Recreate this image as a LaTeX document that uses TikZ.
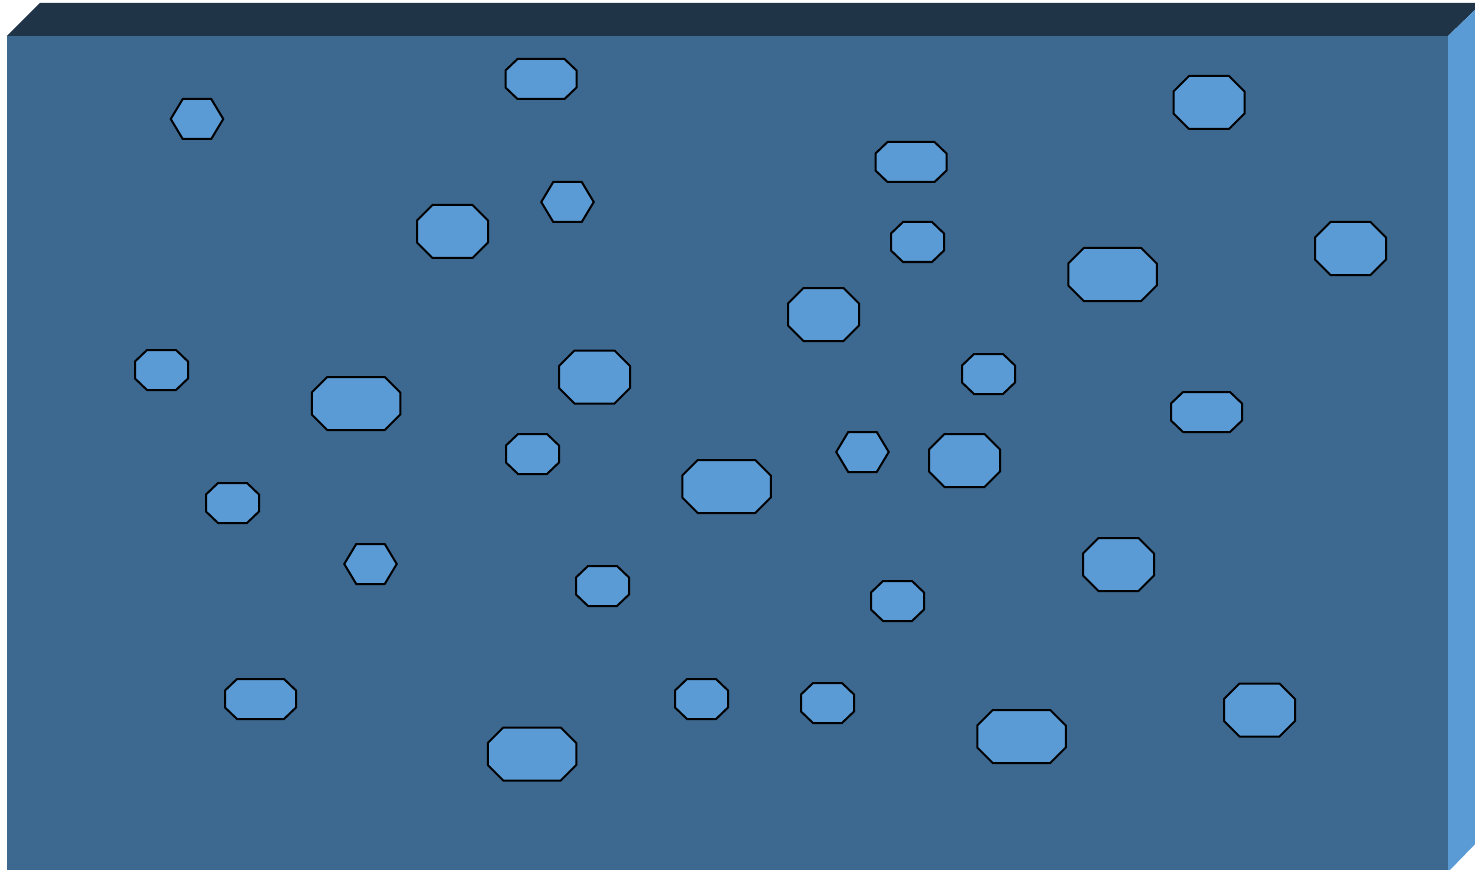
\documentclass[tikz,border=0pt]{standalone}
\begin{document}
\definecolor{frontc}{HTML}{3D6990}
\definecolor{topc}{HTML}{203448}
\definecolor{sidec}{HTML}{5B9BD5}
\definecolor{shapec}{HTML}{5B9BD5}
\tikzset{
  facefront/.style={fill=frontc, draw=none},
  facetop/.style={fill=topc, draw=none},
  faceside/.style={fill=sidec, draw=none},
  blob/.style={fill=shapec, draw=black, line width=1.5, line join=miter}
}
% cx cy halfwidth halfheight xcut ycut
\newcommand\chamfshape[6]{%
  \draw[blob] ({#1-#3+#5},{#2-#4}) -- ({#1+#3-#5},{#2-#4}) -- ({#1+#3},{#2-#4+#6})
    -- ({#1+#3},{#2+#4-#6}) -- ({#1+#3-#5},{#2+#4}) -- ({#1-#3+#5},{#2+#4})
    -- ({#1-#3},{#2+#4-#6}) -- ({#1-#3},{#2-#4+#6}) -- cycle;}
\newcommand\octS[2]{\chamfshape{#1}{#2}{26.5}{20}{12}{11.5}}
\newcommand\octW[2]{\chamfshape{#1}{#2}{35.5}{20}{12}{11.5}}
\newcommand\octM[2]{\chamfshape{#1}{#2}{35.5}{26.5}{15.5}{15.5}}
\newcommand\octB[2]{\chamfshape{#1}{#2}{44.25}{26.5}{15.5}{15.5}}
\newcommand\hexS[2]{\chamfshape{#1}{#2}{26.25}{20}{12}{20}}
\begin{tikzpicture}[x=0.75pt,y=-0.75pt]
\useasboundingbox (0,0) rectangle (1475,870);
\begin{scope}
\clip (0,0) rectangle (1475,870);
\fill[facefront] (7,36) rectangle (1448,872);
\fill[facetop] (7,36) -- (40,3) -- (1482,3) -- (1448,36) -- cycle;
\fill[faceside] (1448,36) -- (1482,3) -- (1482,837) -- (1448,872) -- cycle;
\end{scope}
% shapes
\hexS{197}{119}
\octW{541}{79}
\octM{1209}{102.5}
\octW{911}{162}
\hexS{567.5}{202}
\octM{452.5}{231.5}
\octS{917.5}{242}
\octB{1112.5}{274.5}
\octM{1350.5}{248.5}
\octM{823.5}{314.5}
\octS{161.5}{370}
\octB{356}{403.5}
\octM{594.5}{377}
\octS{988.5}{374}
\octW{1206.5}{412}
\octS{532.5}{454}
\octB{726.5}{486.5}
\hexS{862.5}{452}
\octM{964.5}{460.5}
\octS{232.5}{503}
\hexS{370.5}{564}
\octS{602.5}{586}
\octS{897.5}{601}
\octM{1118.5}{564.5}
\octW{260.5}{699}
\octB{532}{754}
\octS{701.5}{699}
\octS{827.5}{703}
\octB{1021.5}{736.5}
\octM{1259.5}{710}
\end{tikzpicture}
\end{document}
